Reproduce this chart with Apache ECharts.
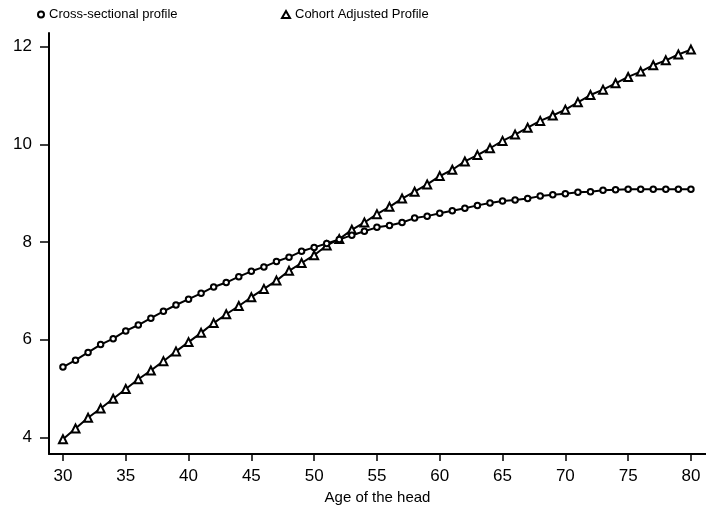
<!DOCTYPE html>
<html>
<head>
<meta charset="utf-8">
<script src="https://cdn.jsdelivr.net/npm/echarts@6/dist/echarts.min.js"></script>
<style>
html,body{margin:0;padding:0;background:#fff;}
#chart{width:706px;height:510px;}
</style>
</head>
<body>
<div id="chart"></div>
<script>
const ages = [30,31,32,33,34,35,36,37,38,39,40,41,42,43,44,45,46,47,48,49,50,51,52,53,54,55,56,57,58,59,60,61,62,63,64,65,66,67,68,69,70,71,72,73,74,75,76,77,78,79,80];
const crossSectional = [5.44,5.58,5.74,5.90,6.02,6.18,6.30,6.44,6.58,6.71,6.83,6.95,7.08,7.17,7.29,7.40,7.49,7.60,7.69,7.81,7.89,7.97,8.05,8.14,8.22,8.30,8.34,8.40,8.49,8.53,8.59,8.64,8.69,8.75,8.80,8.84,8.86,8.89,8.94,8.97,8.99,9.02,9.03,9.06,9.07,9.08,9.08,9.08,9.08,9.08,9.08];
const cohortAdjusted = [3.96,4.18,4.40,4.59,4.79,4.99,5.19,5.37,5.56,5.76,5.95,6.14,6.34,6.52,6.69,6.87,7.04,7.21,7.41,7.57,7.73,7.93,8.06,8.25,8.40,8.57,8.72,8.89,9.03,9.18,9.35,9.48,9.65,9.78,9.92,10.07,10.20,10.34,10.48,10.59,10.71,10.86,11.01,11.12,11.25,11.38,11.49,11.62,11.72,11.84,11.94];
const xTicks = [30,35,40,45,50,55,60,65,70,75,80];
const yTicks = [4,6,8,10,12];
const seriesNames = ['Cross-sectional profile','Cohort Adjusted Profile'];
const xTitle = 'Age of the head';

const font = '"Liberation Sans", Arial, sans-serif';
const chart = echarts.init(document.getElementById('chart'));
const pair = (ys) => ages.map((a,i)=>[a, ys[i]]);

chart.setOption({
  animation: false,
  backgroundColor: '#fff',
  legend: [
    {data:[{name:seriesNames[0], icon:'emptyCircle'}], left:37, top:8, padding:0, itemWidth:6, itemHeight:6, itemGap:5,
     itemStyle:{borderWidth:1.5, borderColor:'#000', color:'#000'},
     textStyle:{fontFamily:font, fontSize:13, color:'#000'}},
    {data:[{name:seriesNames[1], icon:'emptyTriangle'}], left:281, top:8, padding:0, itemWidth:8, itemHeight:7, itemGap:5,
     itemStyle:{borderWidth:1.5, borderColor:'#000', color:'#000'},
     textStyle:{fontFamily:font, fontSize:13, color:'#000'}}
  ],
  grid: {left:49, right:0, top:33, bottom:50, containLabel:false},
  xAxis: {
    type:'value', min:28.89, max:81.2,
    name: xTitle, nameLocation:'middle', nameGap:22,
    nameTextStyle:{fontFamily:font, fontSize:15, color:'#000'},
    axisLine:{show:true, onZero:false, lineStyle:{color:'#000', width:2}},
    axisTick:{show:true, length:7, lineStyle:{color:'#000', width:1.5}, customValues:xTicks},
    axisLabel:{fontFamily:font, fontSize:17, color:'#000', margin:14, customValues:xTicks},
    splitLine:{show:false}
  },
  yAxis: {
    type:'value', min:3.657, max:12.28,
    axisLine:{show:true, onZero:false, lineStyle:{color:'#000', width:2}},
    axisTick:{show:true, length:9, lineStyle:{color:'#000', width:1.5}, customValues:yTicks},
    axisLabel:{fontFamily:font, fontSize:17, color:'#000', margin:17, customValues:yTicks},
    splitLine:{show:false}
  },
  series: [
    {name:seriesNames[0], type:'line', data:pair(crossSectional), symbol:'emptyCircle', symbolSize:5.5,
     showAllSymbol:true, lineStyle:{color:'#000', width:2}, itemStyle:{color:'#000', borderColor:'#000', borderWidth:1.6}, z:3},
    {name:seriesNames[1], type:'line', data:pair(cohortAdjusted), symbol:'emptyTriangle', symbolSize:8,
     showAllSymbol:true, lineStyle:{color:'#000', width:2}, itemStyle:{color:'#000', borderColor:'#000', borderWidth:1.6}, z:2}
  ]
});
</script>
</body>
</html>
